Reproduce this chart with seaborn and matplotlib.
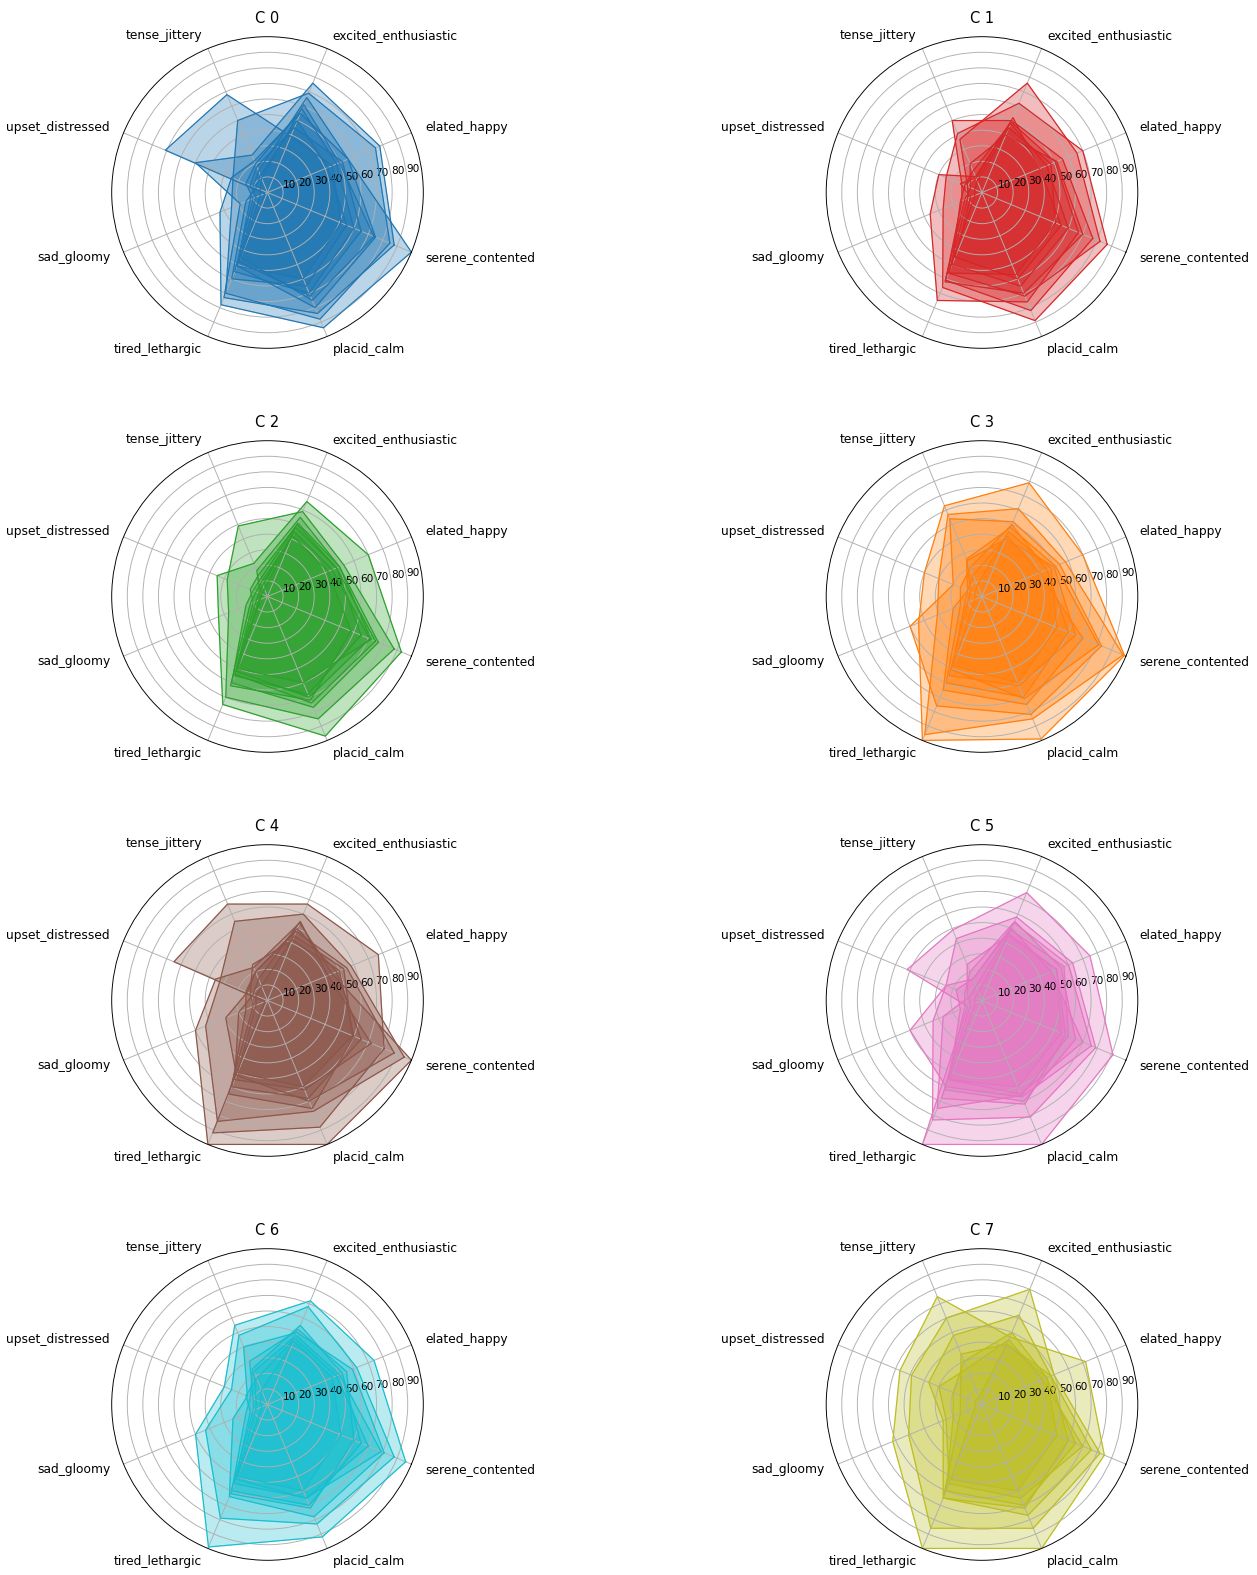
import numpy as np
import matplotlib
matplotlib.use("Agg")
import matplotlib.pyplot as plt
import seaborn as sns

# Mood dimensions, listed counter-clockwise starting just below 3 o'clock
categories = ["serene_contented", "elated_happy", "excited_enthusiastic", "tense_jittery",
              "upset_distressed", "sad_gloomy", "tired_lethargic", "placid_calm"]

# Ratings per cluster (one row per member, columns follow `categories`)
c0 = [[51, 45, 39, 68, 71, 2, 51, 60],
      [100, 56, 55, 22, 25, 33, 78, 94],
      [88, 78, 76, 26, 50, 19, 73, 84],
      [85, 75, 69, 50, 24, 25, 70, 88],
      [75, 56, 66, 15, 10, 12, 51, 80],
      [74, 50, 61, 10, 5, 5, 45, 75],
      [60, 48, 58, 20, 15, 10, 55, 70],
      [55, 42, 50, 12, 8, 15, 60, 65],
      [65, 52, 45, 18, 12, 8, 48, 72]]
c1 = [[87, 70, 62, 41, 25, 27, 66, 89],
      [77, 56, 50, 50, 14, 14, 61, 82],
      [82, 66, 76, 37, 10, 10, 56, 72],
      [67, 51, 49, 11, 30, 36, 75, 76],
      [51, 48, 45, 8, 5, 5, 56, 57],
      [60, 45, 48, 15, 12, 15, 50, 65],
      [70, 52, 40, 20, 8, 12, 62, 70],
      [55, 40, 52, 10, 15, 8, 45, 60]]
c2 = [[93, 70, 66, 23, 35, 34, 75, 97],
      [88, 53, 59, 49, 28, 27, 70, 85],
      [77, 50, 51, 12, 10, 15, 60, 77],
      [75, 48, 48, 8, 6, 8, 54, 74],
      [71, 45, 45, 5, 4, 5, 52, 70],
      [65, 48, 50, 15, 12, 10, 55, 68],
      [58, 42, 42, 10, 8, 12, 62, 72],
      [72, 50, 55, 18, 5, 6, 50, 60]]
c3 = [[99, 70, 79, 63, 40, 44, 100, 99],
      [98, 58, 61, 57, 30, 31, 96, 85],
      [83, 54, 52, 54, 20, 50, 76, 82],
      [81, 51, 48, 26, 10, 12, 51, 71],
      [52, 48, 45, 8, 5, 5, 48, 60],
      [60, 45, 50, 20, 15, 15, 60, 70],
      [70, 40, 42, 15, 10, 20, 65, 75],
      [65, 50, 40, 25, 8, 10, 55, 62]]
c4 = [[81, 77, 67, 67, 65, 2, 92, 88],
      [100, 45, 54, 23, 36, 50, 100, 100],
      [95, 58, 60, 55, 33, 43, 84, 77],
      [88, 55, 48, 20, 14, 29, 52, 70],
      [59, 53, 45, 10, 8, 8, 50, 60],
      [65, 48, 50, 20, 15, 15, 60, 68],
      [72, 42, 55, 15, 10, 20, 55, 62],
      [60, 50, 42, 25, 12, 10, 65, 75]]
c5 = [[91, 75, 75, 49, 52, 10, 100, 100],
      [79, 63, 58, 43, 25, 34, 83, 81],
      [76, 60, 54, 15, 25, 50, 60, 67],
      [60, 57, 49, 10, 8, 27, 75, 66],
      [55, 52, 45, 6, 5, 5, 55, 60],
      [65, 55, 55, 20, 12, 12, 62, 70],
      [70, 48, 50, 15, 18, 15, 55, 65],
      [58, 52, 46, 25, 10, 8, 68, 72]]
c6 = [[96, 74, 72, 55, 30, 50, 99, 92],
      [88, 62, 68, 48, 25, 43, 79, 83],
      [81, 59, 50, 40, 14, 24, 64, 78],
      [79, 50, 48, 23, 8, 8, 52, 65],
      [51, 45, 44, 10, 5, 4, 50, 60],
      [65, 52, 55, 25, 12, 15, 60, 70],
      [70, 48, 46, 18, 15, 12, 55, 65],
      [60, 55, 52, 30, 10, 10, 62, 72]]
c7 = [[85, 72, 47, 75, 57, 62, 100, 100],
      [82, 50, 80, 60, 49, 51, 86, 86],
      [76, 48, 62, 48, 37, 27, 65, 77],
      [52, 45, 42, 5, 5, 5, 52, 60],
      [65, 45, 50, 30, 20, 20, 60, 70],
      [70, 42, 45, 25, 30, 25, 55, 65],
      [60, 48, 42, 35, 15, 15, 65, 72]]

clusters = [c0, c1, c2, c3, c4, c5, c6, c7]
titles = ["C 0", "C 1", "C 2", "C 3", "C 4", "C 5", "C 6", "C 7"]

tab10 = sns.color_palette("tab10")
colors = [tab10[0], tab10[3], tab10[2], tab10[1], tab10[5], tab10[6], tab10[9], tab10[8]]

DPI = 84
W, H = 1257, 1575
fig = plt.figure(figsize=(W / DPI, H / DPI), dpi=DPI)

n = len(categories)
angles = np.arange(n) * 2 * np.pi / n
closed = np.concatenate([angles, angles[:1]])

R = 155.8
col_x = [267.5, 982.0]
row_y = [192.5, 596.5, 1000.5, 1404.5]

for i, (rows, title, color) in enumerate(zip(clusters, titles, colors)):
    cx = col_x[i % 2]
    cy = row_y[i // 2]
    ax = fig.add_axes([(cx - R) / W, (H - cy - R) / H, 2 * R / W, 2 * R / H],
                      projection="polar")
    ax.set_theta_offset(-np.pi / 8)
    for vals in rows:
        v = np.concatenate([vals, vals[:1]])
        ax.fill(closed, v, color=color, alpha=0.3)
        ax.plot(closed, v, color=color, linewidth=1.0)
    ax.set_ylim(0, 100)
    ax.set_yticks(np.arange(10, 100, 10))
    ax.set_yticklabels([str(t) for t in range(10, 100, 10)], fontsize=9)
    ax.set_rlabel_position(30)
    ax.set_xticks(angles)
    ax.set_xticklabels(categories, fontsize=10.5)
    ax.tick_params(axis="x", pad=2)
    for lab, ang in zip(ax.get_xticklabels(), angles):
        disp = (np.degrees(ang) - 22.5) % 360
        if 90 < disp < 270:
            lab.set_horizontalalignment("right")
        else:
            lab.set_horizontalalignment("left")
    ax.set_title(title, fontsize=12.5, y=1.0, pad=12)

fig.savefig("out.png", dpi=DPI)
